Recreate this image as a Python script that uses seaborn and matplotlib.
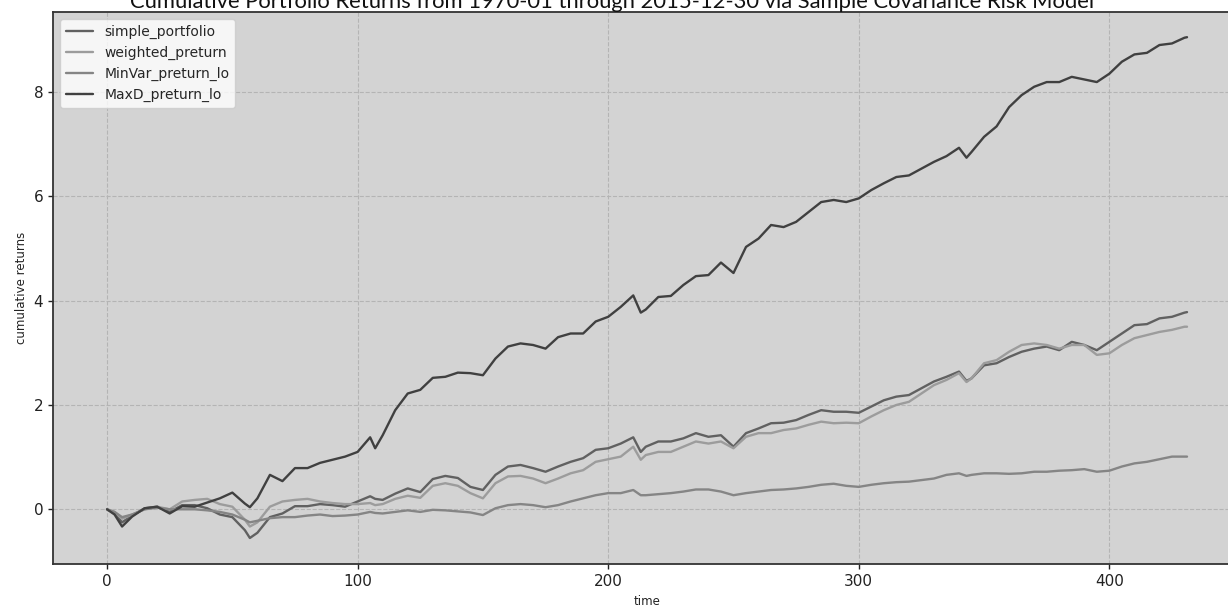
import seaborn as sns
import matplotlib
matplotlib.use("Agg")
import matplotlib.pyplot as plt
import pandas as pd

# values
time = [0, 3, 6, 10, 15, 20, 25, 30, 35, 40, 45, 50, 55, 57, 60, 65, 70, 75, 80, 85,
        90, 95, 100, 105, 107, 110, 115, 120, 125, 130, 135, 140, 145, 150, 155, 160,
        165, 170, 175, 180, 185, 190, 195, 200, 205, 210, 213, 215, 220, 225, 230, 235,
        240, 245, 250, 255, 260, 265, 270, 275, 280, 285, 290, 295, 300, 305, 310, 315,
        320, 325, 330, 335, 340, 343, 345, 350, 355, 360, 365, 370, 375, 380, 385, 390,
        395, 400, 405, 410, 415, 420, 425, 430, 431]

simple_portfolio = [0, -0.08, -0.25, -0.12, 0.02, 0.05, -0.05, 0.08, 0.08, 0.02, -0.1, -0.15,
                    -0.4, -0.55, -0.45, -0.15, -0.08, 0.06, 0.06, 0.1, 0.08, 0.05, 0.15, 0.25,
                    0.2, 0.18, 0.3, 0.4, 0.33, 0.58, 0.64, 0.6, 0.43, 0.37, 0.66, 0.82, 0.85,
                    0.79, 0.72, 0.82, 0.91, 0.98, 1.14, 1.17, 1.26, 1.38, 1.1, 1.2, 1.3, 1.3,
                    1.36, 1.46, 1.39, 1.42, 1.2, 1.46, 1.55, 1.65, 1.66, 1.71, 1.81, 1.9, 1.87,
                    1.87, 1.85, 1.97, 2.09, 2.16, 2.19, 2.32, 2.45, 2.54, 2.64, 2.46, 2.51,
                    2.76, 2.8, 2.92, 3.02, 3.08, 3.12, 3.05, 3.21, 3.15, 3.05, 3.21, 3.37,
                    3.53, 3.55, 3.66, 3.69, 3.77, 3.78]

weighted_preturn = [0, -0.05, -0.18, -0.1, 0.0, 0.05, 0.0, 0.15, 0.18, 0.2, 0.1, 0.05, -0.2,
                    -0.33, -0.25, 0.05, 0.15, 0.18, 0.2, 0.15, 0.12, 0.1, 0.1, 0.12, 0.08,
                    0.1, 0.2, 0.26, 0.22, 0.45, 0.5, 0.45, 0.31, 0.21, 0.5, 0.63, 0.64, 0.59,
                    0.5, 0.59, 0.69, 0.75, 0.91, 0.96, 1.01, 1.2, 0.95, 1.04, 1.1, 1.1, 1.2,
                    1.3, 1.26, 1.3, 1.17, 1.39, 1.46, 1.46, 1.52, 1.55, 1.62, 1.68, 1.65, 1.66,
                    1.65, 1.78, 1.9, 2.0, 2.06, 2.22, 2.38, 2.48, 2.61, 2.44, 2.51, 2.8, 2.86,
                    3.02, 3.15, 3.18, 3.15, 3.08, 3.15, 3.15, 2.96, 2.99, 3.15, 3.28, 3.34,
                    3.4, 3.44, 3.5, 3.5]

MinVar_preturn_lo = [0, -0.05, -0.15, -0.1, 0.0, 0.03, 0.0, 0.0, 0.0, -0.02, -0.05, -0.1,
                     -0.2, -0.25, -0.22, -0.17, -0.15, -0.15, -0.12, -0.1, -0.13, -0.12, -0.1,
                     -0.05, -0.07, -0.08, -0.05, -0.02, -0.05, -0.01, -0.02, -0.04, -0.06,
                     -0.11, 0.02, 0.08, 0.1, 0.08, 0.04, 0.08, 0.15, 0.21, 0.27, 0.31, 0.31,
                     0.37, 0.27, 0.27, 0.29, 0.31, 0.34, 0.38, 0.38, 0.34, 0.27, 0.31, 0.34,
                     0.37, 0.38, 0.4, 0.43, 0.47, 0.49, 0.45, 0.43, 0.47, 0.5, 0.52, 0.53,
                     0.56, 0.59, 0.66, 0.69, 0.64, 0.66, 0.69, 0.69, 0.68, 0.69, 0.72, 0.72,
                     0.74, 0.75, 0.77, 0.72, 0.74, 0.82, 0.88, 0.91, 0.96, 1.01, 1.01, 1.01]

MaxD_preturn_lo = [0, -0.1, -0.33, -0.14, 0.02, 0.05, -0.08, 0.06, 0.05, 0.13, 0.21, 0.32,
                   0.11, 0.04, 0.21, 0.66, 0.54, 0.79, 0.79, 0.89, 0.95, 1.01, 1.1, 1.38,
                   1.17, 1.42, 1.9, 2.22, 2.29, 2.52, 2.54, 2.62, 2.61, 2.57, 2.89, 3.12,
                   3.18, 3.15, 3.08, 3.3, 3.37, 3.37, 3.6, 3.69, 3.88, 4.1, 3.77, 3.83, 4.07,
                   4.09, 4.3, 4.47, 4.49, 4.73, 4.53, 5.03, 5.19, 5.45, 5.41, 5.51, 5.7,
                   5.89, 5.93, 5.89, 5.96, 6.12, 6.25, 6.37, 6.4, 6.53, 6.66, 6.77, 6.93,
                   6.74, 6.85, 7.14, 7.34, 7.71, 7.94, 8.1, 8.19, 8.19, 8.29, 8.24, 8.19,
                   8.35, 8.58, 8.72, 8.75, 8.9, 8.93, 9.04, 9.05]

series = {
    "simple_portfolio": simple_portfolio,
    "weighted_preturn": weighted_preturn,
    "MinVar_preturn_lo": MinVar_preturn_lo,
    "MaxD_preturn_lo": MaxD_preturn_lo,
}
colors = {
    "simple_portfolio": "#616161",
    "weighted_preturn": "#9c9c9c",
    "MinVar_preturn_lo": "#858585",
    "MaxD_preturn_lo": "#404040",
}

df = pd.concat(
    [pd.DataFrame({"time": time, "cumulative returns": v, "portfolio": k})
     for k, v in series.items()],
    ignore_index=True,
)

sns.set_theme(style="whitegrid", rc={
    "axes.facecolor": "#d3d3d3",
    "axes.edgecolor": "#333333",
    "axes.linewidth": 1.3,
    "grid.color": "#b4b4b4",
    "grid.linestyle": "--",
    "grid.linewidth": 0.8,
    "xtick.bottom": True,
    "ytick.left": True,
    "xtick.color": "#333333",
    "ytick.color": "#333333",
})
plt.rcParams["font.family"] = ["DejaVu Sans"]

fig = plt.figure(figsize=(12.28, 6.08), dpi=100)
ax = fig.add_axes([0.0432, 0.0719, 0.9674, 0.9081])

sns.lineplot(data=df, x="time", y="cumulative returns", hue="portfolio",
             palette=colors, linewidth=1.7, ax=ax)

ax.set_xlim(-21.55, 452.55)
ax.set_ylim(-1.054, 9.53)
ax.set_xticks([0, 100, 200, 300, 400])
ax.set_yticks([0, 2, 4, 6, 8])
ax.tick_params(labelsize=11, length=3.5, width=1, colors="#222222")
ax.set_xlabel("time", fontsize=8.5, color="#222222")
ax.set_ylabel("cumulative returns", fontsize=8.5, color="#222222")

leg = ax.legend(loc="upper left", fontsize=10, title=None, frameon=True,
                framealpha=0.8, edgecolor="#cccccc", fancybox=True)
leg.get_frame().set_facecolor("white")

# the title sits partly above the top edge, as in the reference
fig.text(612 / 1228, 1 - 8 / 608,
         "Cumulative Portfolio Returns from 1970-01 through 2015-12-30 via Sample Covariance Risk Model",
         ha="center", va="baseline", fontsize=15.8, family="Lato", color="#111111")

fig.savefig("out.png", dpi=100)
